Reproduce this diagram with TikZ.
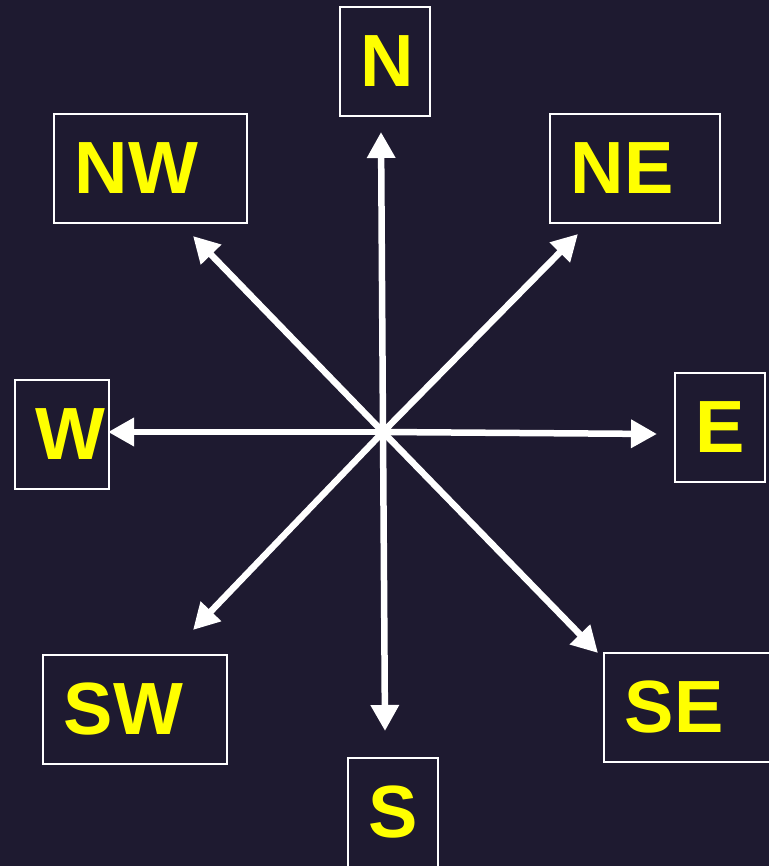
\documentclass[tikz,border=0pt]{standalone}
\usepackage{fontspec}
\setmainfont{Liberation Sans}
\usetikzlibrary{arrows.meta}

\definecolor{nightbg}{RGB}{30,26,48}
\definecolor{dirgold}{RGB}{255,255,0}

\begin{document}
\begin{tikzpicture}[x=1pt,y=-1pt,
  dirbox/.style={draw=white, line width=1.6pt, anchor=north west,
    minimum height=109pt, inner xsep=21pt, inner ysep=0pt, align=left,
    text=dirgold, font=\fontsize{74}{78}\selectfont\bfseries},
  ray/.style={white, line width=6.5pt, -{Triangle[width=27pt,length=26pt]}}]
%
% background and page size
%
\fill[nightbg] (0,0) rectangle (769,866);
\useasboundingbox (0,0) rectangle (769,866);

% draw the compass boxes

\node[dirbox, text width=48pt]  (N)  at (339,6)   {N};
\node[dirbox, text width=151pt] (NW) at (53,113)  {NW};
\node[dirbox, text width=128pt] (NE) at (549,113) {NE};
\node[dirbox, text width=52pt]  (W)  at (14,379)  {W};
\node[dirbox, text width=48pt]  (E)  at (674,372) {E};
\node[dirbox, text width=142pt] (SW) at (42,654)  {SW};
\node[dirbox, text width=132pt] (SE) at (603,652) {SE};
\node[dirbox, text width=48pt]  (S)  at (347,757) {S};

% draw the rays from the centre

\coordinate (c) at (383,432);

\coordinate (tipN)  at (381,132);
\coordinate (tipNE) at (578,234);
\coordinate (tipE)  at (657,434);
\coordinate (tipSE) at (598,653);
\coordinate (tipS)  at (385,731);
\coordinate (tipSW) at (193,630);
\coordinate (tipW)  at (108,432);
\coordinate (tipNW) at (193,236);

\draw[ray] (c) -- (tipN);
\draw[ray] (c) -- (tipNE);
\draw[ray] (c) -- (tipE);
\draw[ray] (c) -- (tipSE);
\draw[ray] (c) -- (tipS);
\draw[ray] (c) -- (tipSW);
\draw[ray] (c) -- (tipW);
\draw[ray] (c) -- (tipNW);

\end{tikzpicture}
\end{document}
